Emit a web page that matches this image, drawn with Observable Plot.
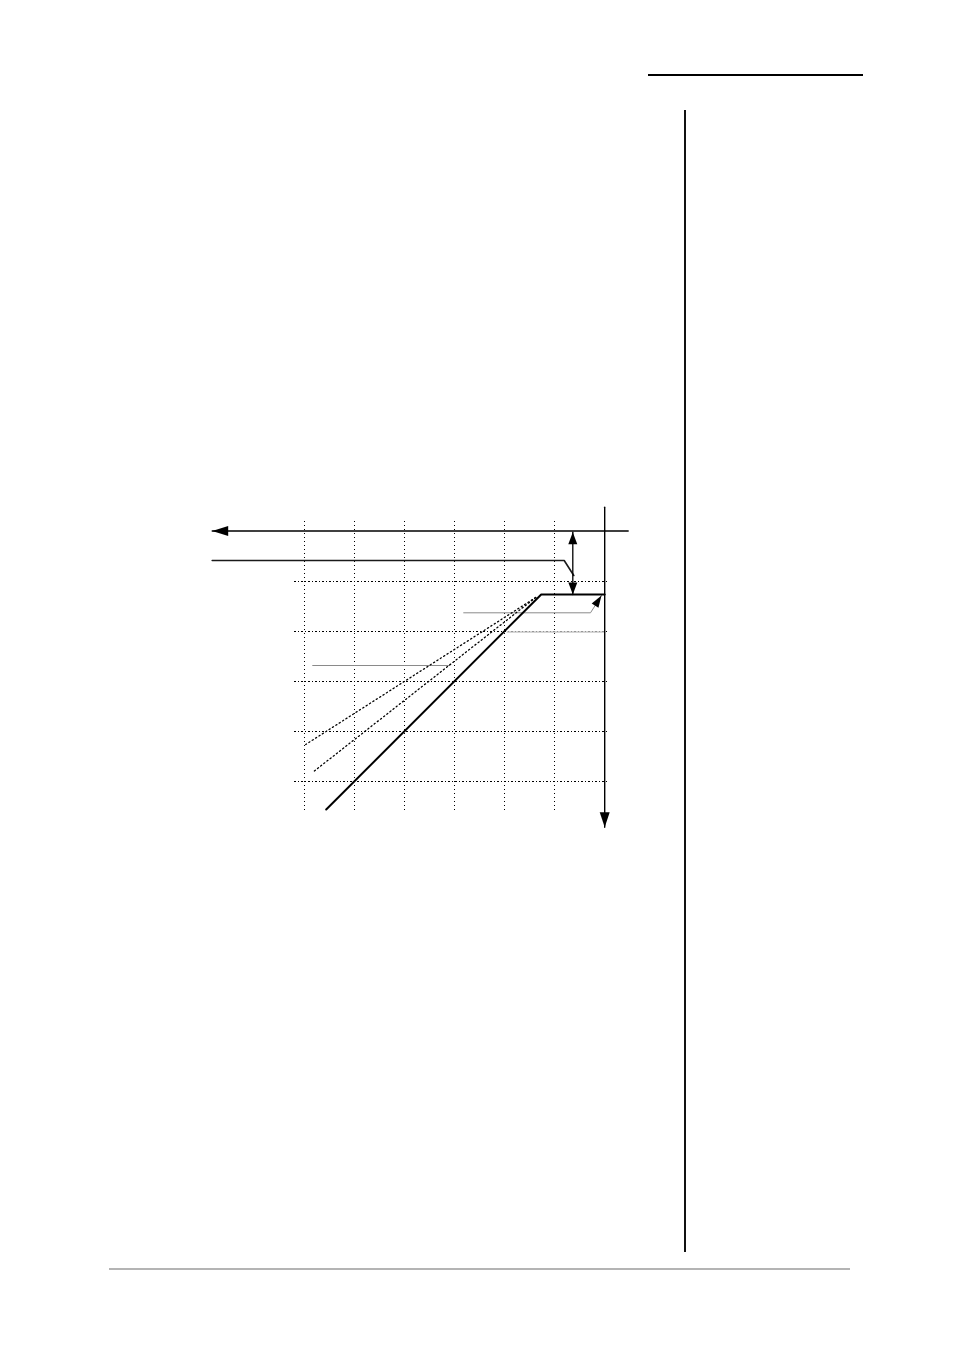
<!DOCTYPE html>
<html>
<head>
<meta charset="utf-8">
<script src="https://cdn.jsdelivr.net/npm/d3@7"></script>
<script src="https://cdn.jsdelivr.net/npm/@observablehq/plot@0.6"></script>
<style>
  html, body { margin: 0; padding: 0; background: #fff; }
  #page { position: relative; width: 954px; height: 1350px; overflow: hidden; background: #fff; }
  #chart { position: absolute; left: 0; top: 0; }
  .rule { position: absolute; }
</style>
</head>
<body>
<div id="page">
  <div id="chart"></div>
  <div class="rule" style="left:648px; top:74px; width:215px; height:2px; background:#000;"></div>
  <div class="rule" style="left:684px; top:110px; width:2px; height:1142px; background:#111;"></div>
  <div class="rule" style="left:109px; top:1268px; width:741px; height:2px; background:#b4b4b4;"></div>
</div>
<script>
// Grid (dB)
const gridX = [-60, -50, -40, -30, -20, -10];
const gridY = [-10, -20, -30, -40, -50];
const gridXSpan = [1.96, -56.5];   // vertical extent of vertical grid lines
const gridYSpan = [-62, 0.96];     // horizontal extent of horizontal grid lines

// Input axis (pointing left) and output axis (pointing down)
const inAxisX = [4.7, -78.5];
const inAxisY = [0, 0];
const outAxisX = [0, 0];
const outAxisY = [4.76, -59.24];

// Limiter transfer curve
const curveIn  = [-55.7, -12.7, 0];
const curveOut = [-55.7, -12.7, -12.7];

// Compressor ratio curves (dotted)
const ratioAIn  = [-13.8, -59.8];
const ratioAOut = [-13.3, -42.7];
const ratioBIn  = [-13.8, -58.2];
const ratioBOut = [-13.3, -48.1];

// Threshold line
const threshIn  = [-78.5, -8.1, -6.18];
const threshOut = [-5.9, -5.9, -8.9];

// Range indicator (double arrow)
const rangeX = [-6.38, -6.38];
const rangeY = [-0.24, -12.7];

// Leader lines
const leader1X = [-28.2, -2.84, -0.64];
const leader1Y = [-16.36, -16.36, -12.9];
const leader2X = [-58.4, -31.0];
const leader2Y = [-26.9, -26.9];
const leader3X = [-19.5, 0];
const leader3Y = [-20.2, -20.2];

const pts = (xs, ys) => xs.map((x, i) => ({x, y: ys[i]}));

// arrowhead with tip at origin pointing along angle (degrees, screen coords)
function head(len, wid, angle) {
  const a = angle * Math.PI / 180;
  const dx = Math.cos(a), dy = Math.sin(a);
  const px = -dy, py = dx;
  return {
    draw(ctx) {
      ctx.moveTo(0, 0);
      ctx.lineTo(-dx * len + px * wid / 2, -dy * len + py * wid / 2);
      ctx.lineTo(-dx * len - px * wid / 2, -dy * len - py * wid / 2);
      ctx.closePath();
    }
  };
}
const leaderAngle = Math.atan2(-(leader1Y[2] - leader1Y[1]), leader1X[2] - leader1X[1]) * 180 / Math.PI;

const heads = [
  {x: inAxisX[1], y: inAxisY[1], s: head(16, 10, 180)},
  {x: outAxisX[1], y: outAxisY[1], s: head(15, 10, 90)},
  {x: rangeX[0], y: rangeY[0], s: head(12, 9, -90)},
  {x: rangeX[1], y: rangeY[1], s: head(12, 9, 90)},
  {x: leader1X[2], y: leader1Y[2], s: head(12, 8, leaderAngle)}
];

const marks = [
  // grid
  Plot.ruleX(gridX, {x: d => d, y1: gridXSpan[0], y2: gridXSpan[1], stroke: "#000", strokeWidth: 1, strokeDasharray: "1,3", shapeRendering: "crispEdges"}),
  Plot.ruleY(gridY, {y: d => d, x1: gridYSpan[0], x2: gridYSpan[1], stroke: "#000", strokeWidth: 1, strokeDasharray: "2,2,1,2", shapeRendering: "crispEdges"}),
  // leaders
  Plot.line(pts(leader3X, leader3Y), {x: "x", y: "y", stroke: "#c8c8c8", strokeWidth: 1.5}),
  Plot.line(pts(leader1X, leader1Y), {x: "x", y: "y", stroke: "#8a8a8a", strokeWidth: 1}),
  Plot.line(pts(leader2X, leader2Y), {x: "x", y: "y", stroke: "#8a8a8a", strokeWidth: 1}),
  // ratio lines
  Plot.line(pts(ratioAIn, ratioAOut), {x: "x", y: "y", stroke: "#000", strokeWidth: 1.3, strokeDasharray: "1.2,2.8"}),
  Plot.line(pts(ratioBIn, ratioBOut), {x: "x", y: "y", stroke: "#000", strokeWidth: 1.3, strokeDasharray: "1.2,2.8"}),
  // axes
  Plot.line(pts(inAxisX, inAxisY), {x: "x", y: "y", stroke: "#000", strokeWidth: 1.4}),
  Plot.line(pts(outAxisX, outAxisY), {x: "x", y: "y", stroke: "#000", strokeWidth: 1.4}),
  // threshold line
  Plot.line(pts(threshIn, threshOut), {x: "x", y: "y", stroke: "#1a1a1a", strokeWidth: 1.6}),
  // range arrow
  Plot.line(pts(rangeX, rangeY), {x: "x", y: "y", stroke: "#000", strokeWidth: 1.3}),
  // transfer curve
  Plot.line(pts(curveIn, curveOut), {x: "x", y: "y", stroke: "#000", strokeWidth: 2, strokeLinejoin: "miter"}),
  // arrowheads
  ...heads.map(h => Plot.dot([h], {x: "x", y: "y", symbol: h.s, r: 5, fill: "#000", stroke: "none"}))
];

const chart = Plot.plot({
  width: 954,
  height: 1350,
  marginTop: 0, marginRight: 0, marginBottom: 0, marginLeft: 0,
  x: {domain: [-120.84, 69.96], range: [0, 954], axis: null},
  y: {domain: [-163.9, 106.1], range: [1350, 0], axis: null},
  style: {background: "transparent"},
  marks
});
document.getElementById("chart").appendChild(chart);
</script>
</body>
</html>
